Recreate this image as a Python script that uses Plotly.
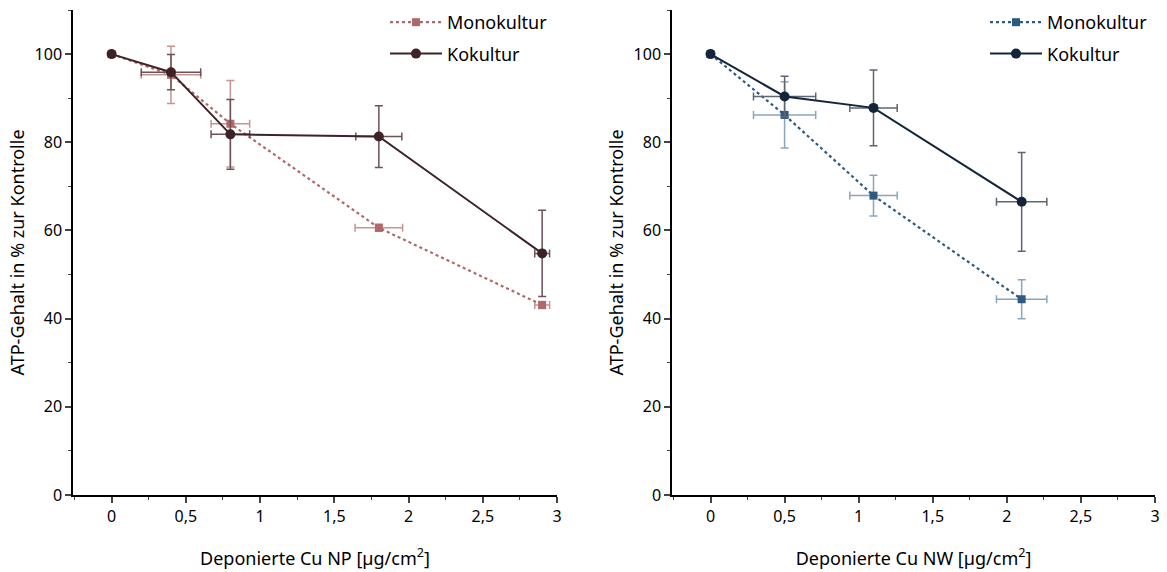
import plotly.graph_objects as go

# ---- data ----
np_x = [0, 0.4, 0.8, 1.8, 2.9]
np_mono = [100, 95.3, 84.2, 60.6, 43.1]
np_mono_xerr = [0, 0.2, 0.13, 0.16, 0.05]
np_mono_yerr = [0, 6.5, 9.8, 0.8, 0.8]
np_ko = [100, 95.9, 81.8, 81.3, 54.8]
np_ko_xerr = [0, 0.2, 0.13, 0.155, 0.05]
np_ko_yerr = [0, 4.0, 7.9, 7.0, 9.8]

nw_x = [0, 0.5, 1.1, 2.1]
nw_mono = [100, 86.2, 67.9, 44.4]
nw_mono_xerr = [0, 0.21, 0.16, 0.17]
nw_mono_yerr = [0, 7.5, 4.6, 4.4]
nw_ko = [100, 90.4, 87.8, 66.5]
nw_ko_xerr = [0, 0.21, 0.16, 0.17]
nw_ko_yerr = [0, 4.6, 8.6, 11.2]

x_ticks = [0, 0.5, 1, 1.5, 2, 2.5, 3]
y_ticks = [0, 20, 40, 60, 80, 100]

FONT = "Noto Sans"
fig = go.Figure()

def add(x, y, xe, ye, name, color, ecolor, dash, symbol, size, xa, ya, legend, group):
    fig.add_trace(go.Scatter(
        x=x, y=y, name=name, mode="lines+markers",
        line=dict(color=color, width=2 if dash == "solid" else 2.2, dash=dash),
        marker=dict(symbol=symbol, size=size, color=color),
        error_x=dict(type="data", array=xe, color=ecolor, thickness=1.5, width=4),
        error_y=dict(type="data", array=ye, color=ecolor, thickness=1.5, width=4),
        xaxis=xa, yaxis=ya, legend=legend, legendgroup=group))

add(np_x, np_mono, np_mono_xerr, np_mono_yerr, "Monokultur", "#b06868", "#c79393", "dot", "square", 8, "x", "y", "legend", "a")
add(np_x, np_ko, np_ko_xerr, np_ko_yerr, "Kokultur", "#3d2226", "#6e5256", "solid", "circle", 10, "x", "y", "legend", "b")
add(nw_x, nw_mono, nw_mono_xerr, nw_mono_yerr, "Monokultur", "#2f5a80", "#8aa5bd", "dot", "square", 8, "x2", "y2", "legend2", "c")
add(nw_x, nw_ko, nw_ko_xerr, nw_ko_yerr, "Kokultur", "#14243a", "#5d6673", "solid", "circle", 10, "x2", "y2", "legend2", "d")

ML, MR, MT, MB = 73, 12, 10, 77
PW = 1167 - ML - MR
PH = 572 - MT - MB

xaxis_common = dict(
    range=[-0.26, 3.0], tickvals=x_ticks, ticks="outside", ticklen=6, tickwidth=1.5,
    showline=True, linecolor="black", linewidth=1.5, showgrid=False, zeroline=False,
    minor=dict(dtick=0.25, tick0=0, ticks="outside", ticklen=3, tickwidth=1.2),
    tickfont=dict(size=16, color="black", family=FONT), automargin=False,
)
yaxis_common = dict(
    range=[0, 110], tickvals=y_ticks, ticks="outside", ticklen=6, tickwidth=1.5,
    showline=True, linecolor="black", linewidth=1.5, showgrid=False, zeroline=False,
    minor=dict(dtick=10, tick0=0, ticks="outside", ticklen=3, tickwidth=1.2),
    tickfont=dict(size=16, color="black", family=FONT), domain=[0, 1], automargin=False,
)

legend_common = dict(xanchor="left", yanchor="top", bgcolor="rgba(0,0,0,0)",
                     font=dict(size=18, family=FONT), tracegroupgap=5, itemwidth=52)

fig.update_layout(
    width=1167, height=572,
    margin=dict(l=ML, r=MR, t=MT, b=MB, autoexpand=False),
    paper_bgcolor="white", plot_bgcolor="white",
    separators=",.",
    font=dict(family=FONT, color="black"),
    xaxis=dict(**xaxis_common, domain=[0, (557 - ML) / PW], anchor="y",
               title=dict(text="Deponierte Cu NP [µg/cm<sup>2</sup>]", font=dict(size=18), standoff=26)),
    yaxis=dict(**yaxis_common, anchor="x",
               title=dict(text="ATP-Gehalt in % zur Kontrolle", font=dict(size=18), standoff=5)),
    xaxis2=dict(**xaxis_common, domain=[(672 - ML) / PW, 1], anchor="y2",
                title=dict(text="Deponierte Cu NW [µg/cm<sup>2</sup>]", font=dict(size=18), standoff=26)),
    yaxis2=dict(**yaxis_common, anchor="x2",
                title=dict(text="ATP-Gehalt in % zur Kontrolle", font=dict(size=18), standoff=5)),
    legend=dict(**legend_common, x=(385 - ML) / PW, y=1 + 6 / PH),
    legend2=dict(**legend_common, x=(985 - ML) / PW, y=1 + 6 / PH),
)

fig.write_html("out.html")
